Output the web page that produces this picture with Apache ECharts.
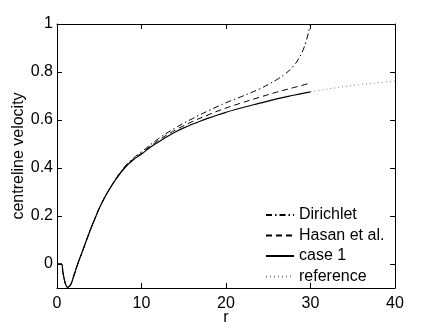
<!DOCTYPE html>
<html>
<head>
<meta charset="utf-8">
<script src="https://cdn.jsdelivr.net/npm/echarts@6/dist/echarts.min.js"></script>
<style>
  html, body { margin: 0; padding: 0; background: #fff; }
  #chart { width: 436px; height: 328px; }
</style>
</head>
<body>
<div id="chart"></div>
<script>
// values
const caseR = [0, 0.5, 0.7, 0.9, 1.1, 1.25, 1.45, 1.7, 2, 2.5, 3, 3.5, 4, 4.5, 5, 5.5, 6, 7, 8, 9, 10, 11, 12, 13, 14, 15, 16, 17, 18, 19, 20, 22, 24, 26, 28, 30]
const caseV = [0, 0, -0.035, -0.07, -0.092, -0.097, -0.093, -0.08, -0.048, 0.005, 0.052, 0.1, 0.147, 0.19, 0.232, 0.268, 0.3, 0.355, 0.4, 0.433, 0.458, 0.485, 0.508, 0.53, 0.55, 0.567, 0.582, 0.596, 0.609, 0.621, 0.632, 0.652, 0.67, 0.688, 0.703, 0.717]

const dirichletR = [0, 0.5, 0.7, 0.9, 1.1, 1.25, 1.45, 1.7, 2, 2.5, 3, 3.5, 4, 4.5, 5, 5.5, 6, 7, 8, 9, 10, 12, 14, 16, 18, 20, 22, 24, 25, 26, 27, 28, 28.5, 29, 29.5, 30]
const dirichletV = [0, 0, -0.035, -0.07, -0.092, -0.097, -0.093, -0.08, -0.048, 0.005, 0.052, 0.1, 0.147, 0.19, 0.232, 0.268, 0.3, 0.357, 0.405, 0.44, 0.467, 0.522, 0.567, 0.605, 0.64, 0.672, 0.7, 0.73, 0.748, 0.768, 0.792, 0.825, 0.85, 0.882, 0.93, 1.0]

const hasanR = [0, 0.5, 0.7, 0.9, 1.1, 1.25, 1.45, 1.7, 2, 2.5, 3, 3.5, 4, 4.5, 5, 5.5, 6, 7, 8, 9, 10, 12, 14, 16, 18, 20, 22, 24, 26, 28, 30]
const hasanV = [0, 0, -0.035, -0.07, -0.092, -0.097, -0.093, -0.08, -0.048, 0.005, 0.052, 0.1, 0.147, 0.19, 0.232, 0.268, 0.3, 0.356, 0.402, 0.436, 0.462, 0.515, 0.558, 0.593, 0.623, 0.65, 0.673, 0.695, 0.716, 0.735, 0.754]

const refR = [30, 32, 34, 36, 38, 40]
const refV = [0.717, 0.729, 0.739, 0.748, 0.755, 0.762]

const xTicks = [0, 10, 20, 30, 40]
const yTicks = [0, 0.2, 0.4, 0.6, 0.8, 1]

const font = 'Liberation Sans, Arial, Helvetica, sans-serif'
const pairs = (xs, ys) => xs.map((x, i) => [x, ys[i]])

const chart = echarts.init(document.getElementById('chart'), null, { renderer: 'canvas' })

const axisCommon = {
  axisLine: { show: true, onZero: false, lineStyle: { color: '#000', width: 1 } },
  axisTick: { show: true, inside: true, length: 5, lineStyle: { color: '#000' } },
  splitLine: { show: false },
}

const option = {
  animation: false,
  backgroundColor: '#fff',
  grid: { left: 57, right: 41, top: 24, bottom: 40, containLabel: false, outerBoundsMode: 'none' },
  legend: {
    orient: 'vertical',
    left: 265,
    top: 207,
    padding: 0,
    itemWidth: 28,
    itemHeight: 14,
    itemGap: 4.5,
    itemStyle: { opacity: 0 },
    textStyle: { fontFamily: font, fontSize: 16, color: '#000' },
    data: ['Dirichlet', 'Hasan et al.', 'case 1', 'reference'],
  },
  xAxis: [
    {
      ...axisCommon,
      type: 'value', min: 0, max: 40, interval: 10,
      name: 'r', nameLocation: 'middle', nameGap: 22, nameMoveOverlap: false,
      nameTextStyle: { fontFamily: font, fontSize: 16, color: '#000' },
      axisLabel: { fontFamily: font, fontSize: 16, color: '#000', margin: 8, customValues: xTicks },
    },
    {
      ...axisCommon,
      type: 'value', min: 0, max: 40, interval: 10, position: 'top',
      axisLabel: { show: false },
    },
  ],
  yAxis: [
    {
      ...axisCommon,
      type: 'value', min: -0.1, max: 1,
      name: 'centreline velocity', nameLocation: 'middle', nameGap: 30, nameMoveOverlap: false,
      nameTextStyle: { fontFamily: font, fontSize: 16, color: '#000' },
      axisTick: { ...axisCommon.axisTick, customValues: yTicks },
      axisLabel: { fontFamily: font, fontSize: 16, color: '#000', margin: 4, customValues: yTicks },
    },
    {
      ...axisCommon,
      type: 'value', min: -0.1, max: 1, position: 'right',
      axisTick: { ...axisCommon.axisTick, customValues: yTicks },
      axisLabel: { show: false },
    },
  ],
  series: [
    {
      name: 'Dirichlet', type: 'line', symbol: 'none', smooth: 0.4,
      data: pairs(dirichletR, dirichletV), color: '#000',
      lineStyle: { color: '#000', width: 1, type: [6, 3, 1.5, 3] },
    },
    {
      name: 'Hasan et al.', type: 'line', symbol: 'none', smooth: 0.4,
      data: pairs(hasanR, hasanV), color: '#000',
      lineStyle: { color: '#000', width: 1, type: [6, 4] },
    },
    {
      name: 'case 1', type: 'line', symbol: 'none', smooth: 0.4,
      data: pairs(caseR, caseV), color: '#000',
      lineStyle: { color: '#000', width: 1.2 },
    },
    {
      name: 'reference', type: 'line', symbol: 'none', smooth: 0.4,
      data: pairs(refR, refV), color: '#888',
      lineStyle: { color: '#888', width: 1, type: [1, 3] },
    },
  ],
}

chart.setOption(option)
</script>
</body>
</html>
